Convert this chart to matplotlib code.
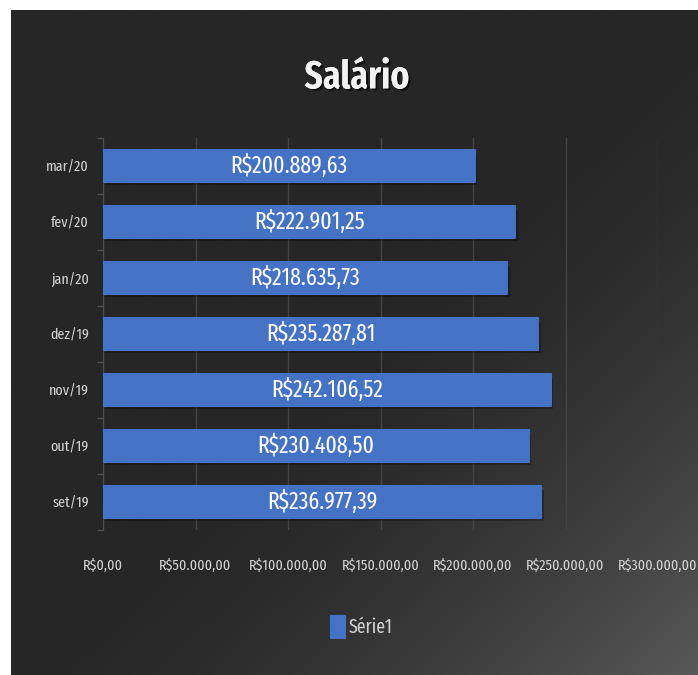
import numpy as np
import matplotlib
matplotlib.use('Agg')
import matplotlib.pyplot as plt
from matplotlib import rcParams
from matplotlib.ticker import FuncFormatter, FixedLocator
import matplotlib.patheffects as pe

rcParams['font.family'] = ['Fira Sans Extra Condensed', 'DejaVu Sans']

meses = ['mar/20', 'fev/20', 'jan/20', 'dez/19', 'nov/19', 'out/19', 'set/19']
salario = [200889.63, 222901.25, 218635.73, 235287.81, 242106.52, 230408.50, 236977.39]
xticks = [0, 50000, 100000, 150000, 200000, 250000, 300000]
serie = 'Série1'
titulo = 'Salário'


def brl(v):
    s = '{:,.2f}'.format(v)
    s = s.replace(',', '#').replace('.', ',').replace('#', '.')
    return 'R$' + s


fig = plt.figure(figsize=(6.98, 6.75), dpi=100, facecolor='white')

# fundo escuro com leve clareamento no canto inferior direito
bg = fig.add_axes([11/698, 0, 687/698, 665/675])
bg.set_axis_off()
xx, yy = np.meshgrid(np.linspace(0, 1, 300), np.linspace(0, 1, 300))
u = (xx + yy) / 2
t = np.clip((u - 0.5) / 0.5, 0, 1) ** 1.6
c = (38 + (88 - 38) * t) / 255
img = np.dstack([c, c, c])
bg.imshow(img, aspect='auto', extent=[0, 1, 0, 1], origin='upper')

ax = fig.add_axes([103/698, 1 - 530/675, 555/698, 392/675])
ax.set_facecolor('none')
y = np.arange(len(meses))

# sombra das barras
ax.barh(y + 0.06, salario, height=0.56, left=1200, color='black', alpha=0.28, zorder=2)
bars = ax.barh(y, salario, height=0.56, color='#4472C4', edgecolor='#4472C4',
               linewidth=1.5, joinstyle='round', zorder=3)

for yi, v in zip(y, salario):
    ax.text(v / 2, yi, brl(v), ha='center', va='center', color='white',
            fontsize=17, zorder=4)

ax.set_xlim(0, 300000)
ax.set_ylim(len(meses) - 0.5, -0.5)
ax.xaxis.set_major_locator(FixedLocator(xticks))
ax.xaxis.set_major_formatter(FuncFormatter(lambda v, p: brl(v)))
ax.grid(axis='x', color='#444444', linewidth=1, zorder=0)
ax.set_axisbelow(True)
ax.set_yticks(y)
ax.set_yticklabels(meses)
ax.set_yticks(np.arange(-0.5, len(meses)), minor=True)
ax.tick_params(axis='y', which='major', length=0, pad=10, labelsize=11, labelcolor='#d0d0d0')
ax.tick_params(axis='y', which='minor', length=4, color='#505050', width=1)
ax.tick_params(axis='x', length=0, pad=21, labelsize=11, labelcolor='#d0d0d0')
for s in ['top', 'right', 'bottom']:
    ax.spines[s].set_visible(False)
ax.spines['left'].set_color('#505050')

fig.text(357/698, 1 - 78/675, titulo, ha='center', va='center', fontsize=28,
         fontweight='semibold', color='#f2f2f2',
         path_effects=[pe.withSimplePatchShadow(offset=(1.5, -1.5), shadow_rgbFace='black', alpha=0.6), pe.Normal()])

leg = ax.legend([bars], [serie], loc='center', bbox_to_anchor=(362/698, 1 - 627/675),
                bbox_transform=fig.transFigure, frameon=False, fontsize=14,
                labelcolor='#d0d0d0', handlelength=0.7, handleheight=1.4, handletextpad=0.2)

fig.savefig('out.png', dpi=100, facecolor=fig.get_facecolor())
